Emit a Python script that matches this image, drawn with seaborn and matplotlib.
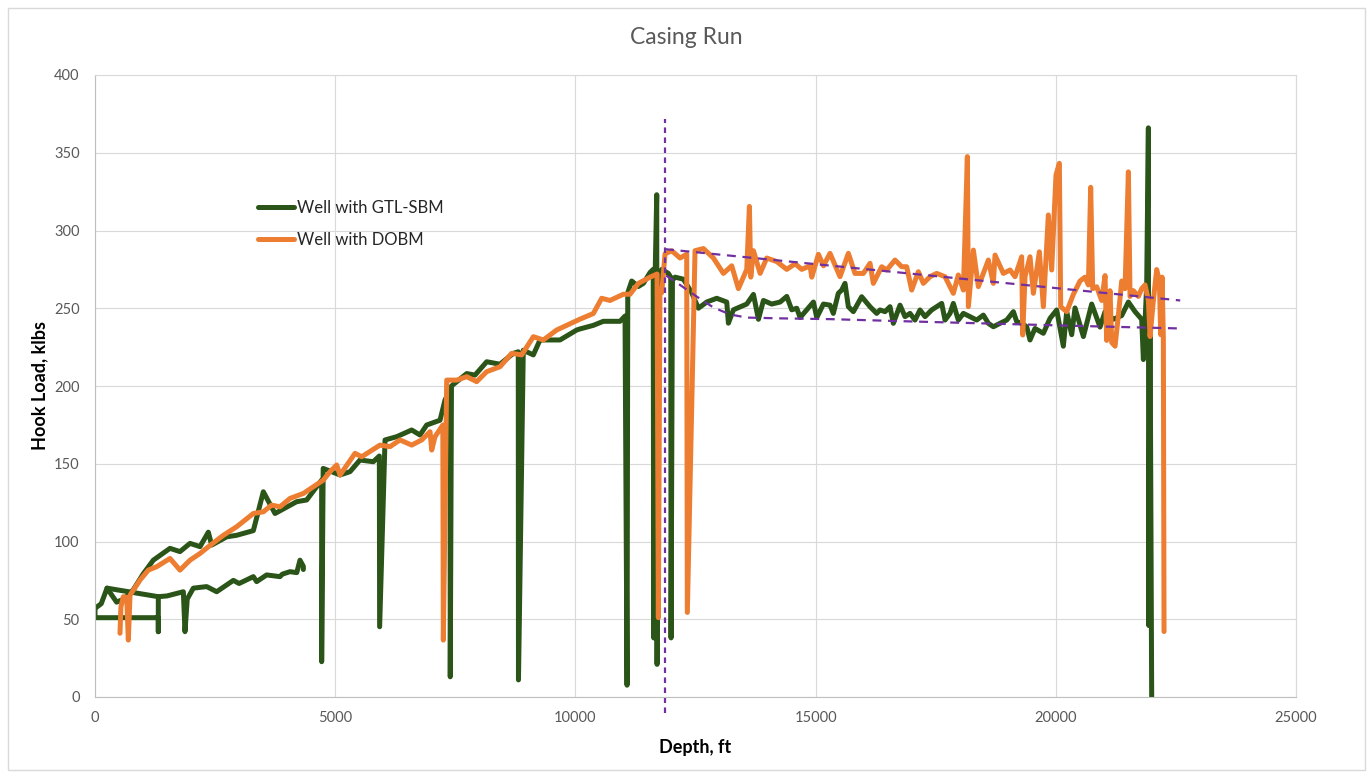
import pandas as pd
import matplotlib.pyplot as plt
import seaborn as sns
from matplotlib.patches import Rectangle

# Well with GTL-SBM, three passes of the run (depth ft, hook load klbs)
gtl_main_depth = [0, 130, 250, 450, 600, 798, 1000, 1214, 1561, 1769, 1978, 2186, 2359, 2429, 2741,
                  2950, 3296, 3504, 3747, 4198, 4406, 4718, 4718, 4750, 5100, 5308, 5516, 5794, 5919,
                  5925, 6037, 6280, 6592, 6765, 6904, 7182, 7286, 7390, 7395, 7420, 7738, 7910, 8154,
                  8430, 8707, 8811, 8815, 8915, 9124, 9263, 9679, 10027, 10096, 10373, 10581, 10929,
                  11033, 11075, 11090, 11172, 11311, 11415, 11554, 11620, 11630, 11660, 11693, 11700,
                  11730, 11797, 11935, 11985, 11991, 12020, 12074, 12248, 12421, 12560, 12734, 12942,
                  13150, 13185, 13289, 13567, 13706, 13810, 13914, 14087, 14261, 14400, 14503, 14608,
                  14677, 14955, 15024, 15163, 15300, 15369, 15473, 15543, 15612, 15682, 15786, 15959,
                  16133, 16271, 16341, 16445, 16549, 16618, 16757, 16861, 16965, 17069, 17173, 17278,
                  17416, 17520, 17625, 17694, 17798, 17867, 17971, 18076, 18214, 18353, 18492, 18596,
                  18700, 18839, 18978, 19117, 19186, 19290, 19394, 19463, 19567, 19741, 19880, 20019,
                  20157, 20227, 20331, 20400, 20574, 20747, 20921, 21025, 21198, 21372, 21511, 21650,
                  21788, 21823, 21892, 21927, 21935, 21960, 21996]
gtl_main_load = [57, 60, 70, 61, 63, 69, 79, 88, 95.6, 93.5, 98.8, 96.7, 106, 97.7, 103,
                 104, 107, 132, 118, 125.6, 126.7, 139.5, 22.7, 147, 142.8, 144.9, 152.4, 151.3, 155,
                 45.2, 165.3, 167.4, 171.7, 168.5, 174.9, 178, 191, 197.4, 13, 200, 208, 207, 215.6,
                 214, 221, 222, 11, 223, 220, 229.6, 229.6, 236, 236.7, 239, 241.6, 241.6,
                 245, 7.6, 260, 267.5, 264, 266, 273, 275, 38, 272, 323, 21,
                 268, 275, 272.4, 270, 38, 268, 270, 268.7, 260, 250, 254, 256.4,
                 254, 240.4, 249, 252.7, 258.9, 242.9, 255, 252.7, 254, 257.6, 249, 250,
                 244, 254, 244, 252.7, 252, 246.7, 259.6, 261.7, 266, 251, 247.8, 257.4,
                 251, 246.7, 248.9, 247.8, 251, 240.3, 252, 244.6, 246.7, 242.4, 248.9, 244.6,
                 248.9, 251, 253.1, 242.4, 246.7, 253.1, 242.4, 246.7, 244.6, 242.4, 245.6, 240.3,
                 238.1, 240.3, 242.4, 247.8, 241.4, 240.3, 238.1, 229.6, 237, 233.9, 243.5, 248.9,
                 225.6, 247.8, 233, 250.2, 231.8, 252.7, 237.9, 247.8, 242.9, 245.3, 254, 247.8,
                 242.9, 217, 265, 366, 46, 255, 0]

gtl_loop_depth = [250, 1318, 1318, 1318, 0, 0]
gtl_loop_load = [70, 64.5, 42, 51, 51, 57]

gtl_lower_depth = [1318, 1500, 1839, 1873, 1920, 2047, 2325, 2533, 2880, 3000, 3296, 3365, 3573,
                   3850, 3900, 4058, 4200, 4267, 4337, 4337]
gtl_lower_load = [64.5, 65, 67.7, 42, 63, 70, 71, 67.7, 75, 73, 77.4, 74.2, 78.5,
                  77.4, 79, 80.6, 80, 88, 84, 82]

# Well with DOBM
dobm_depth = [520, 540, 590, 660, 694, 729, 937, 1110, 1284, 1561, 1769, 1978, 2186, 2359, 2672,
              2949, 3296, 3504, 3678, 3851, 4059, 4337, 4753, 4892, 5031, 5100, 5412, 5551, 5933,
              6141, 6349, 6592, 6800, 6974, 7009, 7078, 7240, 7251, 7321, 7529, 7737, 7945, 8153,
              8431, 8674, 8882, 9125, 9333, 9610, 10096, 10373, 10546, 10720, 10998, 11137, 11311,
              11554, 11700, 11727, 11760, 11797, 11866, 12005, 12178, 12317, 12330, 12490, 12664,
              12873, 13081, 13254, 13393, 13567, 13622, 13650, 13706, 13845, 13983, 14192, 14400,
              14573, 14712, 14885, 14920, 15059, 15163, 15300, 15404, 15508, 15682, 15820, 15994,
              16133, 16202, 16376, 16480, 16653, 16792, 16896, 17000, 17139, 17243, 17382, 17520,
              17694, 17867, 17971, 18076, 18159, 18180, 18284, 18388, 18596, 18700, 18735, 18908,
              19047, 19151, 19290, 19311, 19359, 19463, 19533, 19658, 19741, 19845, 19914, 20004,
              20074, 20102, 20227, 20365, 20504, 20608, 20678, 20726, 20768, 20851, 20955, 21025,
              21059, 21129, 21164, 21233, 21302, 21372, 21441, 21511, 21545, 21615, 21719, 21788,
              21857, 21927, 21962, 22031, 22100, 22156, 22184, 22212, 22239, 22253]
dobm_load = [41, 58, 64.5, 64, 36.6, 65.5, 75.2, 81.6, 83.8, 89.1, 81.6, 88, 92.3, 96.6, 104,
             109.5, 118, 119.1, 123.4, 122.3, 127.7, 130.9, 139.5, 144.9, 149.2, 142.7, 156.7, 154.5, 162,
             161, 165.3, 162, 165.3, 170.6, 158.8, 167.4, 174.9, 36.6, 203.8, 203.8, 206, 202.8, 209.2,
             212.4, 221, 220, 231.7, 229.6, 236, 243, 246.6, 256.4, 255, 259, 259, 266,
             270, 272, 51, 262, 260, 285, 287, 282.3, 284.7, 54.4, 287, 288.4,
             282.3, 272.4, 277.3, 262.6, 275, 315.5, 270, 287, 272.4, 282.3, 280, 275,
             278.6, 275, 277.3, 270, 284.7, 277.3, 285.3, 277.8, 270.3, 285.3, 272.4, 272.4,
             278.9, 266, 276.7, 274.6, 281, 276.7, 276.7, 261.7, 273.5, 266, 270.3, 272.4,
             270.3, 259.6, 271.4, 261.7, 347.5, 251, 287.4, 263.9, 281, 266, 284.2, 272.4,
             274.6, 270.3, 283.1, 232.8, 270.3, 283.1, 259.6, 286.3, 251, 310, 274.6, 335.7,
             343.2, 251, 247.8, 258.9, 267.5, 270, 265, 327.8, 262.6, 263.8, 255, 271,
             229.3, 261.3, 228, 225.6, 245.3, 267.5, 262.6, 337.7, 257.6, 261.3, 257.6, 262.6,
             265, 255, 231.8, 255, 274.9, 267.5, 233, 270, 230.5, 42.1]

# trend lines after the casing shoe
upper_trend_depth = [11866, 22590]
upper_trend_load = [288, 255]
lower_trend_depth = [11890, 12178, 12525, 12873, 13220, 13567, 14261, 15300, 17000, 20504, 22590]
lower_trend_load = [271, 265, 257.5, 250.5, 246, 244, 243.5, 243, 241.5, 238.6, 237]
shoe_depth = 11865

GREEN = "#2a5418"
ORANGE = "#ed7d31"
PURPLE = "#7030a0"

rows = []
for run, d, l in [("a", gtl_main_depth, gtl_main_load),
                  ("b", gtl_loop_depth, gtl_loop_load),
                  ("c", gtl_lower_depth, gtl_lower_load)]:
    rows += [("Well with GTL-SBM", run, x, y) for x, y in zip(d, l)]
rows += [("Well with DOBM", "a", x, y) for x, y in zip(dobm_depth, dobm_load)]
df = pd.DataFrame(rows, columns=["well", "run", "depth", "load"])

sns.set_style("whitegrid", {"grid.color": "#d9d9d9", "axes.edgecolor": "#d9d9d9"})
plt.rcParams["font.family"] = ["Lato", "DejaVu Sans"]

fig = plt.figure(figsize=(13.72, 7.73), dpi=100)
ax = fig.add_axes([95 / 1372, 1 - 697 / 773, 1201 / 1372, 622 / 773])

sns.lineplot(data=df, x="depth", y="load", hue="well", units="run", estimator=None, sort=False,
             palette={"Well with GTL-SBM": GREEN, "Well with DOBM": ORANGE},
             linewidth=3.6, ax=ax, solid_joinstyle="round", solid_capstyle="round")

sns.lineplot(x=upper_trend_depth, y=upper_trend_load, color=PURPLE, linewidth=1.6,
             linestyle=(0, (4, 3)), ax=ax, legend=False)
sns.lineplot(x=lower_trend_depth, y=lower_trend_load, color=PURPLE, linewidth=1.6,
             linestyle=(0, (4, 3)), ax=ax, legend=False, sort=False)
ax.plot([shoe_depth, shoe_depth], [-10, 372], color=PURPLE, lw=1.6, ls=(0, (2.5, 2)), clip_on=False)

ax.set_xlim(0, 25000)
ax.set_ylim(0, 400)
ax.set_xticks(range(0, 25001, 5000))
ax.set_yticks(range(0, 401, 50))
ax.tick_params(axis="both", length=0, labelsize=10.5, labelcolor="#595959")
ax.tick_params(axis="y", pad=11)
ax.tick_params(axis="x", pad=10)
for s in ax.spines.values():
    s.set_color("#d9d9d9")
ax.spines["left"].set_color("#bfbfbf")
ax.spines["bottom"].set_color("#bfbfbf")

ax.set_xlabel("Depth, ft", fontsize=13, fontweight="bold", color="black")
ax.set_ylabel("Hook Load, klbs", fontsize=13, fontweight="bold", color="black")
ax.xaxis.set_label_coords(0.5, -0.068)
ax.yaxis.set_label_coords(-0.039, 0.5)
fig.text(0.5, 1 - 37 / 773, "Casing Run", ha="center", va="center", fontsize=16.5, color="#595959")

leg = ax.legend(loc="upper left", bbox_to_anchor=(0.123, 0.823), frameon=False, fontsize=12,
                handlelength=2.2, handletextpad=0.15, labelspacing=0.95)
for h in leg.get_lines():
    h.set_linewidth(3.6)

fig.patches.append(Rectangle((8 / 1372, 3 / 773), 1357 / 1372, 762 / 773, transform=fig.transFigure,
                             fill=False, edgecolor="#d9d9d9", lw=1))

fig.savefig("out.png", dpi=100)
